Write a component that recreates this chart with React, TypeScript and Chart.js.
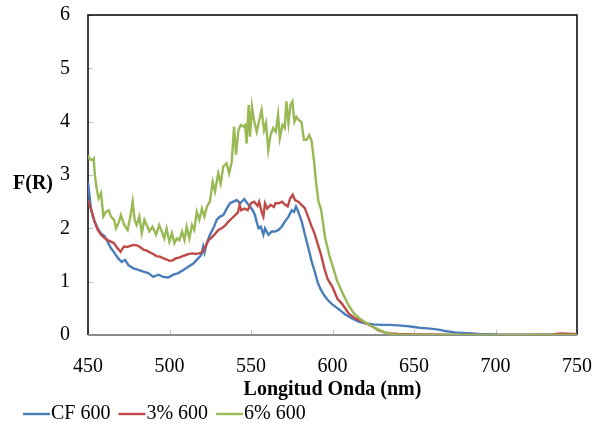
import React, { useEffect, useRef } from "react";
import { Chart, registerables } from "chart.js";

Chart.register(...registerables);

// Wavelength (nm) / F(R) values
const cfWavelengths = [450, 451.8, 453.9, 456, 458, 460, 462, 464, 466, 468.4, 470.7, 472.7, 474.8, 477.8, 480.9, 483.9, 487, 490.1, 493.1, 496.2, 499.3, 502.4, 505.4, 508.5, 511.5, 514.6, 517.7, 519.5, 520.7, 521.5, 522.8, 524.8, 526.9, 529, 531, 533, 535.1, 537.1, 539.2, 541.2, 543.3, 545.9, 547.7, 549.4, 551, 552.4, 553.4, 554.6, 556, 557.6, 558.6, 560.7, 562.7, 564.8, 566.8, 568.8, 570.9, 573, 575, 576.4, 577.6, 579, 581.1, 583.1, 585.2, 587.2, 589, 591, 593, 595, 597, 600, 604, 608, 612, 616, 620, 625, 630, 635, 640, 645, 650, 655, 660, 665, 670, 675, 680, 685, 690, 700, 720, 740, 745, 750];
const cfValues = [2.87, 2.37, 2.13, 2.0, 1.9, 1.86, 1.75, 1.63, 1.55, 1.44, 1.37, 1.41, 1.31, 1.25, 1.22, 1.19, 1.16, 1.09, 1.13, 1.09, 1.08, 1.13, 1.16, 1.22, 1.28, 1.34, 1.44, 1.5, 1.66, 1.55, 1.72, 1.88, 2.0, 2.16, 2.22, 2.25, 2.37, 2.47, 2.5, 2.53, 2.47, 2.55, 2.47, 2.41, 2.34, 2.25, 2.13, 2.0, 2.03, 1.88, 2.0, 1.88, 1.94, 1.94, 1.97, 2.03, 2.13, 2.22, 2.34, 2.31, 2.41, 2.31, 2.13, 1.88, 1.63, 1.38, 1.2, 0.98, 0.84, 0.74, 0.66, 0.57, 0.48, 0.38, 0.31, 0.25, 0.22, 0.2, 0.19, 0.19, 0.18, 0.17, 0.15, 0.13, 0.12, 0.1, 0.07, 0.05, 0.04, 0.03, 0.02, 0.01, 0.005, 0.01, 0.02, 0.01];

const p3Wavelengths = [450, 452, 454, 456, 458, 460, 462, 464, 466, 468, 470, 472, 474, 476, 478, 480, 482, 484, 486, 488, 490, 492, 494, 496, 498, 500, 502, 504, 506, 508, 510, 512, 514, 516, 518, 520, 522, 524, 526, 528, 530, 532, 534, 536, 538, 540, 542, 543, 544, 546, 548, 550, 552, 554, 555, 556.5, 557.6, 558.6, 560, 562, 564, 565, 567, 569, 571, 572.5, 574, 575.6, 577, 579, 581, 583, 585, 587, 589, 591, 593, 595, 597, 600, 603, 606, 610, 614, 618, 622, 625, 628, 632, 636, 640, 650, 660, 680, 700, 720, 735, 740, 745, 750];
const p3Values = [2.53, 2.34, 2.13, 1.97, 1.88, 1.82, 1.78, 1.75, 1.72, 1.63, 1.56, 1.66, 1.65, 1.67, 1.69, 1.68, 1.65, 1.6, 1.58, 1.55, 1.52, 1.48, 1.47, 1.44, 1.42, 1.39, 1.4, 1.44, 1.45, 1.48, 1.5, 1.52, 1.53, 1.52, 1.53, 1.55, 1.65, 1.78, 1.83, 1.9, 1.97, 2.0, 2.05, 2.12, 2.18, 2.24, 2.3, 2.44, 2.34, 2.37, 2.34, 2.47, 2.5, 2.42, 2.5, 2.31, 2.22, 2.47, 2.37, 2.44, 2.4, 2.47, 2.47, 2.5, 2.44, 2.41, 2.56, 2.63, 2.53, 2.5, 2.44, 2.38, 2.22, 2.05, 1.9, 1.7, 1.5, 1.25, 1.05, 0.9, 0.68, 0.58, 0.4, 0.31, 0.26, 0.2, 0.15, 0.09, 0.05, 0.03, 0.02, 0.01, 0.01, 0.0, 0.0, 0.0, 0.01, 0.03, 0.02, 0.02];

const p6Wavelengths = [450, 451, 452.5, 453.5, 454.2, 455.3, 456.5, 458, 459.4, 461, 462.7, 464.1, 466, 467.2, 469, 470.2, 472.3, 474.3, 476, 477.4, 478.6, 479.8, 481.5, 483, 484.6, 486.1, 487.6, 489.6, 491.7, 493.7, 495.3, 496.8, 498.2, 499.9, 501.5, 503, 504.5, 506.1, 507.7, 509.2, 510.5, 512.2, 513.8, 515.2, 516.7, 518.3, 519.9, 521.4, 523, 524.8, 526.5, 527.9, 529.9, 531.4, 533, 535, 536.6, 538.2, 539.6, 540.8, 542.3, 543.7, 545.4, 546.4, 547.3, 548.6, 549.4, 550.6, 551.8, 553.5, 555.1, 556.5, 558, 559.2, 560.6, 562, 563.6, 565.2, 566.6, 567.7, 569.3, 570.7, 571.7, 573, 574.2, 575.4, 576.6, 577.8, 579.2, 580.9, 582.5, 584.1, 585.8, 587.2, 588.7, 589.9, 591.4, 593, 595.5, 598, 600.5, 603, 606.6, 610, 613, 617, 621, 625, 629, 633, 637, 645, 700, 750];
const p6Values = [3.37, 3.3, 3.28, 3.31, 3.0, 2.75, 2.56, 2.66, 2.22, 2.31, 2.34, 2.22, 2.16, 2.0, 2.12, 2.25, 2.06, 1.97, 2.22, 2.5, 2.16, 2.06, 2.22, 1.91, 2.16, 2.06, 1.94, 2.03, 1.88, 2.06, 1.94, 1.81, 2.0, 1.75, 1.91, 1.72, 1.81, 1.78, 1.94, 1.78, 2.03, 1.81, 2.06, 1.97, 2.31, 2.16, 2.37, 2.22, 2.41, 2.5, 2.87, 2.69, 3.03, 2.84, 3.16, 3.22, 3.03, 3.25, 3.91, 3.38, 3.84, 3.94, 3.91, 3.94, 3.59, 4.31, 3.72, 4.28, 4.03, 3.81, 4.03, 4.22, 3.84, 3.97, 3.47, 3.75, 3.88, 3.81, 4.13, 3.69, 3.94, 3.88, 4.38, 3.97, 4.31, 4.38, 4.0, 4.09, 4.03, 4.0, 3.66, 3.66, 3.75, 3.63, 3.25, 2.87, 2.5, 2.35, 1.82, 1.5, 1.25, 1.0, 0.76, 0.55, 0.41, 0.3, 0.22, 0.15, 0.09, 0.04, 0.01, 0.0, 0.0, 0.0];

const seriesLabels = ["CF 600", "3% 600", "6% 600"];
const seriesColors = ["#4a7ebb", "#be4b48", "#98b954"];
const xTicks = [450, 500, 550, 600, 650, 700, 750];
const yTicks = [0, 1, 2, 3, 4, 5, 6];

const SERIF = "'Liberation Serif', 'Times New Roman', serif";

function toPoints(xs: number[], ys: number[]) {
  return xs.map((x, i) => ({ x, y: ys[i] }));
}

const framePlugin = {
  id: "frame",
  beforeDatasetsDraw(chart: any) {
    const { ctx, chartArea } = chart;
    const { left, right, top, bottom } = chartArea;
    const xs = chart.scales.x;
    const ys = chart.scales.y;
    ctx.save();
    // inward tick marks
    ctx.strokeStyle = "#c0c0c0";
    ctx.lineWidth = 1;
    yTicks.forEach((v) => {
      const y = Math.round(ys.getPixelForValue(v)) + 0.5;
      ctx.beginPath();
      ctx.moveTo(left, y);
      ctx.lineTo(left + 5, y);
      ctx.stroke();
    });
    xTicks.forEach((v) => {
      const x = Math.round(xs.getPixelForValue(v)) + 0.5;
      ctx.beginPath();
      ctx.moveTo(x, bottom);
      ctx.lineTo(x, bottom - 5);
      ctx.stroke();
    });
    // frame
    ctx.strokeStyle = "#000";
    ctx.lineWidth = 1.5;
    ctx.beginPath();
    ctx.moveTo(left, bottom);
    ctx.lineTo(left, top);
    ctx.lineTo(right, top);
    ctx.lineTo(right, bottom);
    ctx.stroke();
    ctx.strokeStyle = "#8c8c8c";
    ctx.lineWidth = 2;
    ctx.beginPath();
    ctx.moveTo(left, bottom);
    ctx.lineTo(right, bottom);
    ctx.stroke();
    ctx.restore();
  },
  afterDraw(chart: any) {
    const { ctx } = chart;
    const ys = chart.scales.y;
    ctx.save();
    // horizontal y-axis title
    ctx.font = `bold 20px ${SERIF}`;
    ctx.fillStyle = "#000";
    ctx.textAlign = "left";
    ctx.textBaseline = "middle";
    ctx.fillText("F(R)", 13, ys.getPixelForValue(2.84));
    // legend
    ctx.font = `20px ${SERIF}`;
    const legendY = 414;
    let x = 23;
    chart.data.datasets.forEach((ds: any) => {
      ctx.strokeStyle = ds.borderColor;
      ctx.lineWidth = 2.4;
      ctx.beginPath();
      ctx.moveTo(x, legendY);
      ctx.lineTo(x + 27, legendY);
      ctx.stroke();
      x += 28;
      ctx.fillStyle = "#000";
      ctx.fillText(ds.label, x, legendY);
      x += ctx.measureText(ds.label).width + 8;
    });
    ctx.restore();
  },
};

export default function App() {
  const canvasRef = useRef<HTMLCanvasElement | null>(null);

  useEffect(() => {
    if (!canvasRef.current) return;
    const data = [
      toPoints(cfWavelengths, cfValues),
      toPoints(p3Wavelengths, p3Values),
      toPoints(p6Wavelengths, p6Values),
    ];
    const chart = new Chart(canvasRef.current, {
      type: "line",
      data: {
        datasets: data.map((d, i) => ({
          label: seriesLabels[i],
          data: d,
          borderColor: seriesColors[i],
          backgroundColor: seriesColors[i],
          borderWidth: 2.4,
          pointRadius: 0,
          tension: 0,
          fill: false,
          order: 3 - i,
        })),
      },
      options: {
        responsive: false,
        animation: false,
        layout: { padding: { left: 0, right: 23, top: 15, bottom: 25 } },
        plugins: {
          tooltip: { enabled: false },
          legend: { display: false },
        },
        scales: {
          x: {
            type: "linear",
            min: 450,
            max: 750,
            afterBuildTicks: (scale: any) => {
              scale.ticks = xTicks.map((v) => ({ value: v }));
            },
            afterFit: (scale: any) => {
              scale.height = 67;
              scale.paddingLeft = 0;
              scale.paddingRight = 0;
            },
            ticks: {
              color: "#000",
              font: { family: SERIF, size: 20 },
              padding: 20,
              maxRotation: 0,
            },
            grid: { display: false, drawTicks: false },
            border: { display: false },
            title: {
              display: true,
              text: "Longitud Onda (nm)",
              color: "#000",
              font: { family: SERIF, size: 20, weight: "bold" },
              padding: { top: 0, bottom: 0 },
            },
          },
          y: {
            type: "linear",
            min: 0,
            max: 6,
            afterBuildTicks: (scale: any) => {
              scale.ticks = yTicks.map((v) => ({ value: v }));
            },
            afterFit: (scale: any) => {
              scale.width = 88;
              scale.paddingTop = 0;
              scale.paddingBottom = 0;
            },
            ticks: {
              color: "#000",
              font: { family: SERIF, size: 20 },
              padding: 18,
            },
            grid: { display: false, drawTicks: false },
            border: { display: false },
          },
        },
      } as any,
      plugins: [framePlugin],
    });
    return () => chart.destroy();
  }, []);

  return (
    <div style={{ position: "absolute", left: 0, top: 0, width: 600, height: 427, background: "#fff" }}>
      <canvas ref={canvasRef} width={600} height={427} />
    </div>
  );
}
